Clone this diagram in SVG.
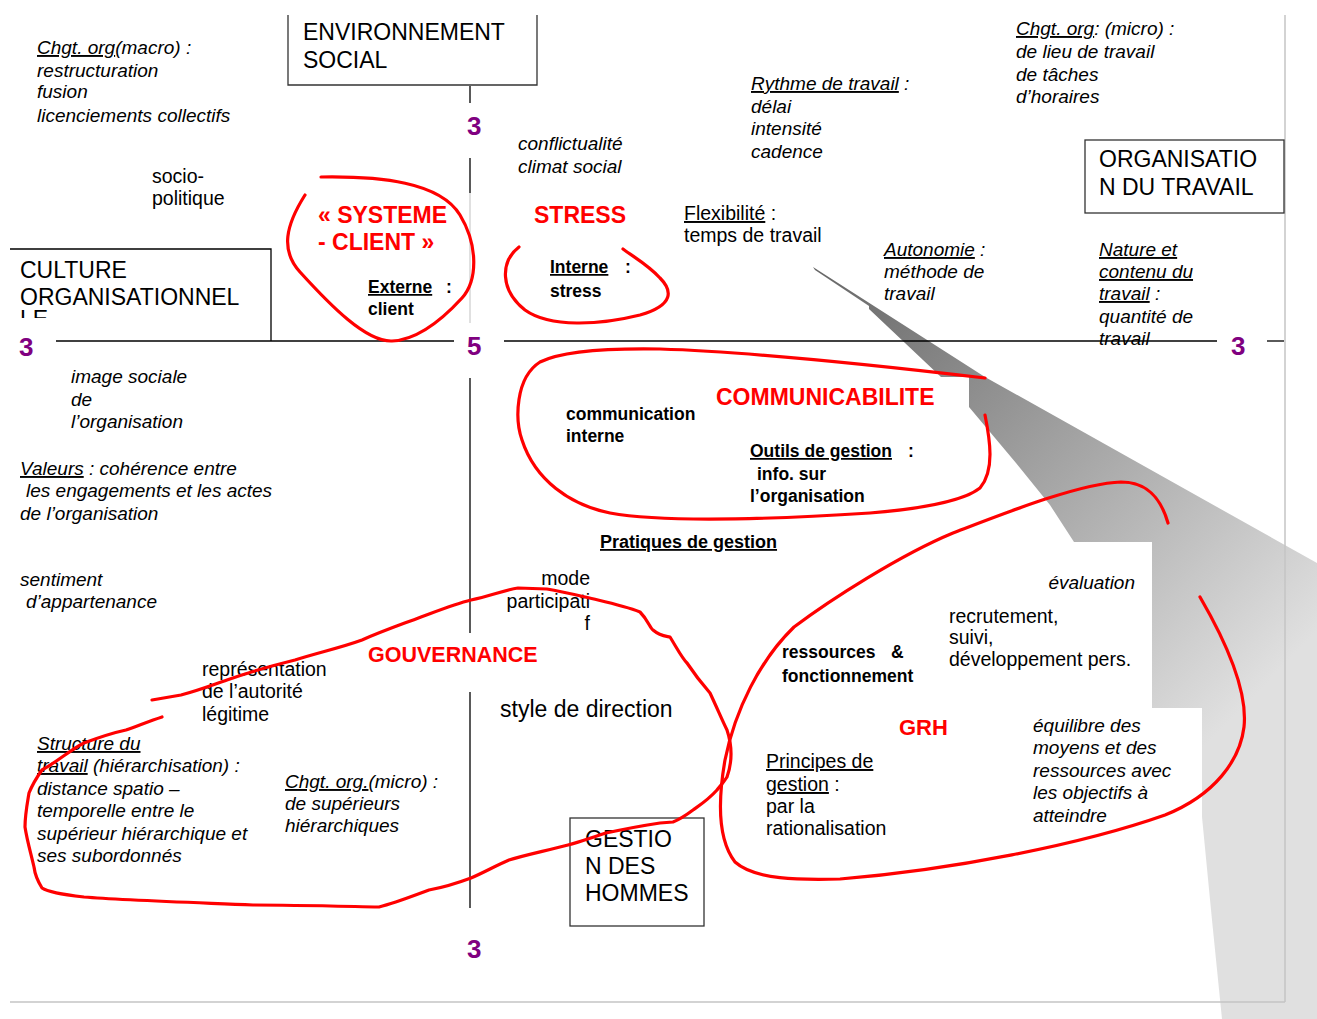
<svg xmlns="http://www.w3.org/2000/svg" width="1317" height="1019" viewBox="0 0 1317 1019">
<defs>
<linearGradient id="shade" gradientUnits="userSpaceOnUse" x1="813" y1="268" x2="1250" y2="700">
<stop offset="0" stop-color="#666666"/>
<stop offset="1" stop-color="#e0e0e0"/>
</linearGradient>
<clipPath id="cultClip"><rect x="0" y="250" width="271" height="68"/></clipPath>
<style>
text { font-family: "Liberation Sans", Arial, sans-serif; fill: #000; }
.it { font-style: italic; font-size: 19px; }
.rg { font-size: 19.5px; }
.bd { font-weight: bold; font-size: 17.5px; }
.red { fill: #ff0000; font-weight: bold; font-size: 23px; }
.bx { font-size: 23px; }
.num { fill: #800080; font-weight: bold; font-size: 26px; }
.u { text-decoration: underline; }
.loop { fill: none; stroke: #ff0000; stroke-width: 3.2; stroke-linecap: round; stroke-linejoin: round; }
.ax { stroke: #000; stroke-width: 1.3; fill: none; }
.frame { stroke: #333; stroke-width: 1.3; fill: #fff; }
</style>
</defs>
<rect x="0" y="0" width="1317" height="1019" fill="#fff"/>

<!-- shadow wedge -->
<path d="M813,267 L815,270 L869,306 L869,309 L941,377 L969,377 L969,407 L1016,463 L1050,505 L1074,542 L1152,542 L1152,708 L1202,708 L1202,817 L1212,920 L1222,1019 L1317,1019 L1317,563 L985,377 Z" fill="url(#shade)"/>

<!-- page border -->
<g id="page-border">
<line x1="1285" y1="15" x2="1285" y2="1002" stroke="#c4c4c4" stroke-width="1.5"/>
<line x1="10" y1="1002" x2="1285" y2="1002" stroke="#c4c4c4" stroke-width="1.5"/>
</g>

<!-- axes -->
<g id="connectors">
<line class="ax" x1="470" y1="86" x2="470" y2="103"/>
<line class="ax" x1="470" y1="158" x2="470" y2="193"/>
<line x1="470" y1="193" x2="470" y2="323" stroke="#cfcfcf" stroke-width="1.3"/>
<line class="ax" x1="470" y1="378" x2="470" y2="633"/>
<line class="ax" x1="470" y1="692" x2="470" y2="908"/>
<line class="ax" x1="56" y1="341" x2="454" y2="341"/>
<line class="ax" x1="504" y1="341" x2="1217" y2="341"/>
<line class="ax" x1="1267" y1="341" x2="1284" y2="341"/>
</g>

<!-- boxes -->
<g id="node-environnement">
<path class="frame" d="M288,15 L288,85 L537,85 L537,15"/>
<text class="bx" x="303" y="40">ENVIRONNEMENT</text>
<text class="bx" x="303" y="68">SOCIAL</text>
</g>
<g id="node-culture">
<path class="ax" d="M10,249 L271,249 L271,341"/>
<text class="bx" x="20" y="278">CULTURE</text>
<text class="bx" x="20" y="305">ORGANISATIONNEL</text>
<text class="bx" x="20" y="327" clip-path="url(#cultClip)">LE</text>
</g>
<g id="node-organisation">
<rect class="frame" x="1085" y="140" width="199" height="73"/>
<text class="bx" x="1099" y="167">ORGANISATIO</text>
<text class="bx" x="1099" y="195">N DU TRAVAIL</text>
</g>
<g id="node-gestion-hommes">
<rect class="frame" x="570" y="818" width="134" height="108"/>
<text class="bx" x="585" y="847">GESTIO</text>
<text class="bx" x="585" y="874">N DES</text>
<text class="bx" x="585" y="901">HOMMES</text>
</g>

<!-- axis numbers -->
<g id="numbers">
<text class="num" x="467" y="135">3</text>
<text class="num" x="19" y="356">3</text>
<text class="num" x="467" y="355">5</text>
<text class="num" x="1231" y="355">3</text>
<text class="num" x="467" y="958">3</text>
</g>

<!-- text blocks -->
<g id="node-chgt-macro">
<text class="it" x="37" y="54"><tspan class="u">Chgt. org</tspan>(macro) :</text>
<text class="it" x="37" y="77">restructuration</text>
<text class="it" x="37" y="98">fusion</text>
<text class="it" x="37" y="122">licenciements collectifs</text>
</g>
<g id="node-sociopolitique">
<text class="rg" x="152" y="183">socio-</text>
<text class="rg" x="152" y="205">politique</text>
</g>
<g id="node-conflictualite">
<text class="it" x="518" y="150">conflictualité</text>
<text class="it" x="518" y="173">climat social</text>
</g>
<g id="node-rythme">
<text class="it" x="751" y="90"><tspan class="u">Rythme de travail</tspan> :</text>
<text class="it" x="751" y="113">délai</text>
<text class="it" x="751" y="135">intensité</text>
<text class="it" x="751" y="158">cadence</text>
</g>
<g id="node-chgt-micro-top">
<text class="it" x="1016" y="35"><tspan class="u">Chgt. org</tspan>: (micro) :</text>
<text class="it" x="1016" y="58">de lieu de travail</text>
<text class="it" x="1016" y="81">de tâches</text>
<text class="it" x="1016" y="103">d’horaires</text>
</g>
<g id="node-systeme-client">
<text class="red" x="318" y="223">« SYSTEME</text>
<text class="red" x="318" y="250">- CLIENT »</text>
<text class="bd" x="368" y="293"><tspan class="u">Externe</tspan><tspan x="446">:</tspan></text>
<text class="bd" x="368" y="315">client</text>
</g>
<g id="node-stress">
<text class="red" x="534" y="223">STRESS</text>
<text class="bd" x="550" y="273"><tspan class="u">Interne</tspan><tspan x="625">:</tspan></text>
<text class="bd" x="550" y="297">stress</text>
</g>
<g id="node-flexibilite">
<text class="rg" x="684" y="220"><tspan class="u">Flexibilité</tspan> :</text>
<text class="rg" x="684" y="242">temps de travail</text>
</g>
<g id="node-autonomie">
<text class="it" x="884" y="256"><tspan class="u">Autonomie</tspan> :</text>
<text class="it" x="884" y="278">méthode de</text>
<text class="it" x="884" y="300">travail</text>
</g>
<g id="node-nature">
<text class="it u" x="1099" y="256">Nature et</text>
<text class="it u" x="1099" y="278">contenu du</text>
<text class="it" x="1099" y="300"><tspan class="u">travail</tspan> :</text>
<text class="it" x="1099" y="323">quantité de</text>
<text class="it" x="1099" y="345">travail</text>
</g>
<g id="node-image-sociale">
<text class="it" x="71" y="383">image sociale</text>
<text class="it" x="71" y="406">de</text>
<text class="it" x="71" y="428">l’organisation</text>
</g>
<g id="node-valeurs">
<text class="it" x="20" y="475"><tspan class="u">Valeurs</tspan> : cohérence entre</text>
<text class="it" x="26" y="497">les engagements et les actes</text>
<text class="it" x="20" y="520">de l’organisation</text>
</g>
<g id="node-sentiment">
<text class="it" x="20" y="586">sentiment</text>
<text class="it" x="26" y="608">d’appartenance</text>
</g>
<g id="node-communicabilite">
<text class="bd" x="566" y="420">communication</text>
<text class="bd" x="566" y="442">interne</text>
<text class="red" x="716" y="405">COMMUNICABILITE</text>
<text class="bd" x="750" y="457"><tspan class="u">Outils de gestion</tspan><tspan x="908">:</tspan></text>
<text class="bd" x="757" y="480">info. sur</text>
<text class="bd" x="750" y="502">l’organisation</text>
</g>
<g id="node-pratiques">
<text class="bd u" x="600" y="548" style="font-size:18px">Pratiques de gestion</text>
</g>
<g id="node-mode">
<text class="rg" x="590" y="585" text-anchor="end">mode</text>
<text class="rg" x="590" y="608" text-anchor="end">participati</text>
<text class="rg" x="590" y="630" text-anchor="end">f</text>
</g>
<g id="node-gouvernance">
<text class="red" x="368" y="662" style="font-size:21.5px">GOUVERNANCE</text>
<text class="rg" x="202" y="676">représentation</text>
<text class="rg" x="202" y="698">de l’autorité</text>
<text class="rg" x="202" y="721">légitime</text>
</g>
<g id="node-style">
<text x="500" y="717" style="font-size:23px">style de direction</text>
</g>
<g id="node-structure">
<text class="it u" x="37" y="750">Structure du</text>
<text class="it" x="37" y="772"><tspan class="u">travail</tspan> (hiérarchisation) :</text>
<text class="it" x="37" y="795">distance spatio –</text>
<text class="it" x="37" y="817">temporelle entre le</text>
<text class="it" x="37" y="840">supérieur hiérarchique et</text>
<text class="it" x="37" y="862">ses subordonnés</text>
</g>
<g id="node-chgt-micro-bottom">
<text class="it" x="285" y="788"><tspan class="u">Chgt. org.</tspan>(micro) :</text>
<text class="it" x="285" y="810">de supérieurs</text>
<text class="it" x="285" y="832">hiérarchiques</text>
</g>
<g id="node-grh">
<text class="it" x="1135" y="589" text-anchor="end">évaluation</text>
<text class="rg" x="949" y="623">recrutement,</text>
<text class="rg" x="949" y="644">suivi,</text>
<text class="rg" x="949" y="666">développement pers.</text>
<text class="bd" x="782" y="658">ressources<tspan x="891">&amp;</tspan></text>
<text class="bd" x="782" y="682">fonctionnement</text>
<text class="red" x="899" y="735" style="font-size:22px">GRH</text>
<text class="rg" x="766" y="768"><tspan class="u">Principes de</tspan></text>
<text class="rg" x="766" y="791"><tspan class="u">gestion</tspan> :</text>
<text class="rg" x="766" y="813">par la</text>
<text class="rg" x="766" y="835">rationalisation</text>
<text class="it" x="1033" y="732">équilibre des</text>
<text class="it" x="1033" y="754">moyens et des</text>
<text class="it" x="1033" y="777">ressources avec</text>
<text class="it" x="1033" y="799">les objectifs à</text>
<text class="it" x="1033" y="822">atteindre</text>
</g>

<!-- red hand-drawn loops -->
<g id="loops">
<path class="loop" d="M321,177 C380,176 440,182 460,215 C478,245 478,280 462,298 C440,322 415,340 392,341 C366,342 330,305 300,272 C280,250 286,225 305,195"/>
<path class="loop" d="M519,247 C500,262 500,290 525,310 C550,328 600,325 640,315 C675,305 672,290 660,278 C648,265 635,258 623,249"/>
<path class="loop" d="M985,378 C900,368 760,352 660,349 C600,348 560,352 540,362 C515,378 515,420 522,440 C535,480 570,505 610,513 C660,522 760,520 870,513 C930,508 965,500 980,488 C995,470 990,440 985,415"/>
<path class="loop" d="M1168,523 C1160,495 1145,482 1121,482 C1080,483 1000,515 953,533 C900,555 830,600 794,627 C760,660 735,710 725,760 C718,800 718,840 735,862 C755,880 800,880 840,879 C950,870 1080,845 1165,815 C1215,795 1240,760 1244,727 C1248,690 1225,640 1200,597"/>
<path class="loop" d="M152,700 L181,695 C200,690 215,684 227,680 C255,670 275,665 295,660 C320,652 340,648 362,640 C385,630 400,625 421,617 C440,610 455,604 471,600 C490,596 505,590 518,588 L547,589 C565,592 580,596 598,600 C615,604 630,608 640,612 C648,620 650,628 653,630 C660,636 665,636 670,637 C678,650 682,658 687,663 C695,675 703,685 710,693 C718,710 722,720 727,730 C732,745 733,760 727,777 C722,785 718,788 717,790 C708,800 700,805 693,810 C685,816 678,820 673,822 L660,823 C640,826 620,830 606,833 C590,838 580,842 568,845 C545,851 525,855 509,860 C495,866 485,872 471,878 C455,884 440,888 429,890 C410,897 395,903 379,907 C330,906 290,905 253,905 C180,902 120,900 84,897 C60,894 48,892 42,888 C37,880 35,875 34,867 C30,850 27,840 25,827 C25,815 27,805 29,793 C33,783 37,777 42,770 C60,760 70,750 84,743 C100,737 112,733 126,730 C140,725 150,721 162,717"/>
</g>
</svg>
